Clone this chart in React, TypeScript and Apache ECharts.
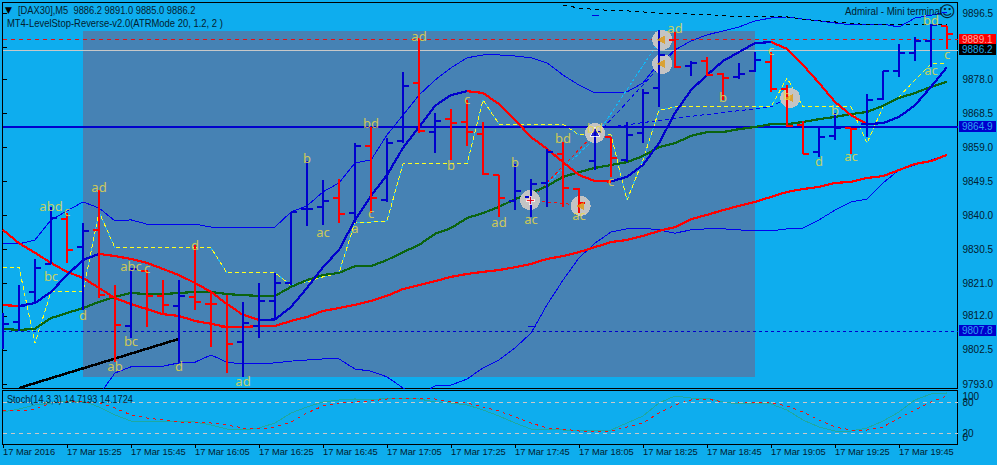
import React, { useEffect, useRef } from "react";
import * as echarts from "echarts";

const BG = "#0EADEE";
const TXT = "#03202F";
const FONT = "Liberation Sans";

const timeLabels = ["17 Mar 2016","17 Mar 15:25","17 Mar 15:45","17 Mar 16:05","17 Mar 16:25","17 Mar 16:45","17 Mar 17:05","17 Mar 17:25","17 Mar 17:45","17 Mar 18:05","17 Mar 18:25","17 Mar 18:45","17 Mar 19:05","17 Mar 19:25","17 Mar 19:45"];
const priceTicks = [9896.5,9887,9878,9868.5,9859,9849.5,9840,9830.5,9821,9812,9802.5,9793];
const priceLabels = [9896.5,9878,9868.5,9859,9849.5,9840,9830.5,9821,9812,9802.5,9793];

// open, high, low, close
const ohlcBars = [
[9805.8,9812.8,9802.8,9809.8],[9810.3,9820.6,9807.8,9814.8],[9818.7,9827.9,9815.6,9825.4],[9826.5,9842.4,9826.5,9839.3],
[9839.0,9840.7,9826.8,9830.4],[9831.2,9837.9,9813.7,9835.7],[9836.0,9847.1,9817.0,9817.8],[9817.3,9820.6,9799.1,9809.5],
[9809.2,9825.4,9805.8,9825.1],[9824.5,9824.8,9808.9,9817.6],[9817.6,9822.0,9812.3,9815.1],[9814.8,9822.0,9799.1,9817.6],
[9817.3,9831.8,9813.7,9815.9],[9815.3,9818.4,9803.3,9815.3],[9808.9,9817.8,9796.1,9804.2],[9804.7,9815.9,9795.0,9810.0],
[9809.2,9821.2,9805.8,9816.2],[9816.2,9824.0,9810.9,9821.2],[9821.2,9841.0,9820.6,9841.0],[9841.8,9855.2,9837.1,9841.9],
[9842.4,9849.9,9837.4,9844.0],[9844.9,9850.2,9837.9,9840.4],[9840.7,9860.2,9837.9,9859.4],[9859.4,9864.7,9840.7,9844.9],
[9844.3,9861.6,9843.8,9860.2],[9860.8,9880.0,9860.2,9876.1],[9877.0,9889.5,9863.0,9863.6],[9863.3,9868.6,9857.5,9866.4],
[9866.9,9869.7,9855.5,9865.8],[9866.1,9872.2,9859.4,9863.3],[9862.8,9866.1,9851.3,9851.6],[9851.3,9851.3,9839.6,9844.9],
[9844.0,9854.4,9841.5,9846.8],[9845.2,9850.2,9839.6,9848.8],[9849.1,9858.6,9842.4,9857.7],[9857.2,9860.5,9842.4,9847.7],
[9847.4,9847.7,9840.7,9843.5],[9855.2,9864.4,9852.7,9863.3],[9861.9,9861.9,9850.8,9856.1],[9855.5,9866.1,9854.9,9862.5],
[9863.0,9875.3,9860.2,9874.2],[9875.6,9891.8,9870.3,9884.8],[9889.0,9891.2,9881.2,9881.4],[9881.7,9883.1,9878.9,9882.6],
[9883.1,9884.2,9878.9,9879.2],[9879.5,9879.8,9872.2,9878.4],[9878.6,9882.6,9878.1,9879.5],[9880.3,9885.6,9880.0,9883.4],
[9882.8,9885.6,9874.5,9875.3],[9875.3,9876.4,9864.7,9865.0],[9865.3,9866.4,9857.2,9857.2],[9857.7,9864.4,9856.3,9861.9],
[9862.2,9868.6,9861.1,9864.4],[9864.4,9864.4,9857.2,9864.1],[9865.5,9873.9,9861.9,9872.2],[9872.5,9880.3,9872.2,9880.3],
[9880.3,9887.8,9878.6,9885.3],[9885.3,9889.8,9883.1,9888.7],[9888.7,9893.4,9881.4,9893.2],[9892.9,9892.9,9886.5,9890.7],
];

const fastMa = [9815.0,9814.8,9815.6,9818.7,9823.4,9827.6,9829.3,9828.7,9827.9,9826.8,9825.1,9823.4,9821.2,9818.7,9815.3,9812.3,9810.9,9811.0,9814.5,9819.8,9825.6,9830.4,9838.8,9845.5,9851.3,9858.9,9864.7,9870.6,9873.6,9874.7,9874.2,9871.1,9866.7,9861.9,9858.6,9854.9,9851.3,9849.6,9849.5,9850.8,9854.1,9860.2,9868.6,9875.0,9879.2,9883.1,9885.6,9888.1,9888.4,9886.5,9882.0,9877.0,9871.7,9868.0,9865.5,9865.8,9867.5,9870.8,9875.9,9881.4];
const slowRed = [9836.0,9832.3,9829.6,9826.8,9824.3,9822.6,9819.8,9817.0,9815.3,9813.9,9812.5,9812.0,9810.6,9809.8,9808.9,9808.9,9809.2,9809.2,9810.6,9811.7,9813.4,9814.2,9815.1,9816.2,9817.6,9819.5,9820.6,9821.7,9822.9,9823.7,9824.3,9824.8,9825.6,9826.5,9827.9,9828.7,9829.8,9831.2,9832.6,9833.2,9834.3,9835.7,9836.8,9839.0,9840.2,9841.5,9842.7,9843.8,9845.2,9846.6,9847.4,9848.0,9849.1,9849.4,9850.5,9851.0,9852.7,9854.4,9855.2,9856.9];
const midGreen = [9808.4,9808.1,9808.4,9811.4,9812.8,9814.2,9815.9,9817.3,9818.4,9818.1,9818.1,9818.4,9818.7,9818.7,9818.1,9817.8,9817.6,9817.6,9820.1,9822.0,9823.4,9824.0,9825.9,9825.9,9827.6,9829.8,9831.8,9834.9,9836.5,9839.3,9840.7,9842.4,9844.6,9846.3,9848.2,9850.8,9852.1,9853.3,9854.1,9854.9,9856.6,9859.1,9860.2,9862.2,9863.3,9863.3,9864.1,9864.7,9865.5,9865.5,9866.1,9866.9,9867.5,9868.3,9868.9,9870.6,9872.8,9874.2,9875.9,9877.3];
const upperBand = [9832.1,9832.1,9833.2,9838.8,9841.3,9843.8,9842.1,9838.5,9838.8,9837.6,9837.6,9837.6,9837.6,9836.8,9836.8,9836.8,9836.8,9836.8,9841.0,9842.7,9846.6,9849.1,9854.7,9855.5,9862.5,9868.0,9873.6,9877.8,9881.2,9884.0,9884.8,9884.8,9884.5,9884.0,9882.6,9879.2,9876.4,9874.2,9874.2,9874.5,9877.0,9882.6,9886.2,9888.7,9890.4,9891.5,9892.6,9894.3,9895.1,9895.4,9894.8,9894.3,9893.7,9893.2,9893.4,9893.4,9892.6,9895.1,9895.9,9896.8];
const lowerBand = [null,null,null,null,null,null,9789.9,9796.1,9797.8,9797.8,9798.0,9798.9,9799.1,9801.1,9799.1,9798.6,9798.6,9798.9,9799.4,9799.7,9800.0,9800.0,9797.2,9796.6,9795.0,9791.9,9789.7,9792.5,9792.7,9794.4,9797.5,9799.7,9803.1,9807.2,9815.1,9822.0,9828.2,9832.3,9835.4,9836.3,9836.5,9836.0,9835.1,9836.0,9836.3,9836.3,9836.0,9835.7,9835.7,9836.3,9836.5,9838.8,9841.5,9843.8,9844.6,9849.1,9852.7,9854.1,9855.5,9856.9];
const levelStop = [9825.6,9825.6,9804.4,9818.7,9818.7,9818.7,9841.0,9831.0,9831.0,9831.0,9831.0,9831.0,9831.0,9831.0,9824.0,9824.0,9824.0,9824.0,9820.6,9821.5,9822.9,9824.0,9838.2,9838.2,9838.5,9854.4,9854.4,9854.4,9854.4,9854.4,9872.2,9865.5,9865.5,9865.5,9865.5,9865.5,9862.5,9862.5,9862.5,9844.3,9855.5,9869.4,9870.3,9870.3,9870.3,9870.3,9870.3,9870.3,9870.3,9878.4,9870.3,9870.3,9870.3,9870.3,9860.2,9870.3,9873.1,9877.8,9882.3,9882.3];
const topDashedStart = 35;
const topDashed = [9898.7,9897.9,9897.5,9897.2,9897.1,9896.8,9896.5,9896.5,9896.2,9896.1,9895.8,9895.5,9895.4,9895.4,9895.4,9894.8,9894.3,9894.0,9893.6,9893.3,9893.2,9893.2,9893.2,9893.2,9893.2];
const stochMain = [61.3,67.1,74.9,78.8,82.6,82.6,71,55.5,43.9,42,43.9,43.9,42,36.2,28.4,26.5,30.4,40.1,59.4,71,80.7,84.6,86.5,84.6,88.4,88.4,86.5,80.7,78.8,74.9,65.2,53.6,40.1,28.4,28.4,26.5,24.6,26.5,26.5,40.1,53.6,78.8,92.3,88.4,88.4,80.7,76.8,78.8,76.8,65.2,45.9,32.3,24.6,24.6,30.4,43.9,61.3,84.6,96.2,98.1];
const stochSignal = [63.3,63.3,67.1,78.8,80.7,80.7,78.8,69.1,55.5,49.7,45.9,42,42,40.1,36.2,30.4,28.4,32.3,42,59.4,72.9,78.8,80.7,82.6,86.5,86.5,88.4,86.5,80.7,78.8,71,63.3,51.7,40.1,30.4,28.4,24.6,22.6,24.6,32.3,40.1,59.4,74.9,84.6,86.5,80.7,78.8,78.8,78.8,72.9,61.3,45.9,32.3,26.5,26.5,32.3,49.7,65.2,80.7,92.3];

const levelPrices = [9889.1, 9886.2, 9864.9, 9807.8];
const trendBottom = [[1, 9791.9], [11, 9805.6]];
const shadedBox = [[5, 9891.5], [47, 9795.0]];
const redDashes = [[[32.94, 9844.3], [36.0, 9842.9]], [[32.94, 9844.3], [37.0, 9863.0]]];
const cyanDashes = [[[33.75, 9847.7], [37.0, 9861.6]], [[37.44, 9864.7], [40.94, 9888.1]]];
const blueDashes = [[[37.5, 9864.4], [41.9, 9885.6]], [[37.5, 9864.4], [42.1, 9867.2], [48, 9870.3], [49, 9872.8]]];
const strayTicks = [[[32.8, 9809.0], [33.3, 9809.0]], [[36.8, 9895.7], [37.25, 9895.7]]];
const circlePoints = [[32.94, 9844.3], [36.1, 9842.7], [37, 9863.0], [41.2, 9889.0], [41.2, 9882.3], [49.2, 9872.8]];
const arrowPoints = [[36.05, 9842.7], [41.1, 9889.0], [41.1, 9882.3], [49.1, 9872.8]];
const upArrowPoints = [[37.0, 9863.4]];
const plusPoints = [[32.94, 9844.3]];
const letterLabels: [number, number, string][] = [
[3,9842.7,"abd"],[4,9841.3,"c"],[6,9848.0,"ad"],[3,9823.1,"bc"],[5,9812.3,"d"],[8,9825.9,"abc"],[9,9825.4,"c"],[8,9805.0,"bc"],[7,9798.0,"ab"],[11,9798.0,"d"],[12,9831.8,"d"],[15,9793.9,"ad"],[19,9856.1,"b"],[20,9835.4,"ac"],[22,9836.5,"a"],[23,9840.7,"c"],[23,9865.8,"bd"],[26,9890.1,"ad"],[28,9854.1,"b"],[29,9872.5,"c"],[31,9838.2,"ad"],[32,9854.9,"b"],[33,9839.0,"ac"],[35,9861.6,"bd"],[36,9840.2,"ac"],[37,9864.4,"bd"],[38,9849.6,"c"],[42,9892.3,"ad"],[45,9873.1,"b"],[48,9886.2,"c"],[49,9873.6,"b"],[51,9855.2,"d"],[52,9869.4,"b"],[53,9856.6,"ac"],[58,9880.6,"ac"],[58,9894.5,"bd"],[59,9885.1,"c"],
];

const tickIdx = timeLabels.map((_, i) => i * 4);
const pts = (a: (number | null)[], start = 0) => a.map((v, i) => [i + start, v]);
const risingOnly = (a: number[], up: boolean) =>
  a.map((v, i) => {
    const before = i > 0 && (up ? a[i] > a[i - 1] : a[i] < a[i - 1]);
    const after = i < a.length - 1 && (up ? a[i + 1] > a[i] : a[i + 1] < a[i]);
    return [i, before || after ? v : null];
  });
const slopesOnly = (a: number[]) =>
  a.map((v, i) => [i, (i > 0 && a[i - 1] !== v) || (i < a.length - 1 && a[i + 1] !== v) ? v : null]);

const line = (name: string, data: any, color: string, width: number, z: number, extra: any = {}) => ({
  name, type: "line", data, symbol: "none", silent: true, z,
  lineStyle: { color, width, ...(extra.dash ? { type: extra.dash } : {}) },
  xAxisIndex: extra.pane ?? 0, yAxisIndex: extra.pane ?? 0,
});

export default function App() {
  const ref = useRef<HTMLDivElement>(null);
  useEffect(() => {
    const chart = echarts.init(ref.current!, undefined, { renderer: "svg" });
    const tag = (bg: string, fg: string) => ({
      show: true, position: "end", distance: 1.5, formatter: (p: any) => Number(p.value).toFixed(1),
      color: fg, backgroundColor: bg, padding: [1, 3, 0, 3], fontFamily: FONT, fontSize: 10,
    });
    const headerText = (x: number, y: number, text: string, scaleX: number) => ({
      type: "text", z: 50, x, y, scaleX, style: { text, fill: TXT, font: `10.5px ${FONT}` },
    });
    const stochLabels = (values: number[], names: string[], ticks: number[]) => ({
      type: "value", gridIndex: 1, position: "right", min: -1.5, max: 102.9,
      axisLine: { show: false }, splitLine: { show: false },
      axisTick: { show: ticks.length > 0, length: 4, lineStyle: { color: "#000" }, customValues: ticks },
      axisLabel: {
        customValues: values, margin: 5, color: TXT, fontFamily: FONT, fontSize: 10,
        showMinLabel: true, showMaxLabel: true, hideOverlap: false,
        formatter: (v: number) => names[values.indexOf(v)] ?? "",
      },
    });
    chart.setOption({
      animation: false,
      backgroundColor: BG,
      grid: [
        { left: 2.5, right: 39.5, top: 2.5, height: 386, show: true, borderColor: "#000", borderWidth: 1, backgroundColor: "transparent" },
        { left: 2.5, right: 39.5, top: 390.5, height: 54, show: true, borderColor: "#000", borderWidth: 1, backgroundColor: "transparent" },
      ],
      xAxis: [
        { type: "value", gridIndex: 0, min: -0.03125, max: 59.656, show: false },
        {
          type: "value", gridIndex: 1, min: -0.03125, max: 59.656,
          axisLine: { show: false }, splitLine: { show: false },
          axisTick: { show: true, length: 4, lineStyle: { color: "#000" }, customValues: tickIdx },
          axisLabel: {
            customValues: tickIdx, align: "left", margin: 3, color: TXT, fontFamily: FONT, fontSize: 9.3,
            formatter: (v: number) => timeLabels[Math.round(v / 4)] ?? "",
          },
        },
      ],
      yAxis: [
        {
          type: "value", gridIndex: 0, position: "right", min: 9791.76, max: 9899.43, scale: true,
          axisLine: { show: false }, splitLine: { show: false },
          axisTick: { show: true, length: 4, lineStyle: { color: "#000" }, customValues: priceTicks },
          axisLabel: { customValues: priceLabels, margin: 5, color: TXT, fontFamily: FONT, fontSize: 10, formatter: (v: number) => v.toFixed(1) },
        },
        stochLabels([90.4, 13], ["100", "0"], [-1.5, 102.9]),
        stochLabels([80, 20], ["80", "20"], []),
      ],
      series: [
        {
          type: "line", data: [], z: 1, silent: true,
          markArea: {
            silent: true, itemStyle: { color: "#4682B4" },
            data: [[{ coord: shadedBox[0] }, { coord: shadedBox[1] }]],
          },
        },
        {
          type: "line", data: [], z: 2, silent: true,
          markLine: {
            silent: true, symbol: "none", precision: 1, animation: false,
            data: [
              { yAxis: levelPrices[0], lineStyle: { color: "#E81010", type: [4, 4], width: 1 }, label: tag("#FF0000", "#FFA8A0") },
              { yAxis: levelPrices[1], lineStyle: { color: "#C8C8C8", type: "solid", width: 1 }, label: tag("#000000", "#1AA9E8") },
              { yAxis: levelPrices[2], lineStyle: { color: "#0000CD", type: "solid", width: 2 }, label: tag("#0000CD", "#2BA6F0") },
              { yAxis: levelPrices[3], lineStyle: { color: "#0000CD", type: [3, 3], width: 1 }, label: tag("#0000CD", "#2BA6F0") },
            ],
          },
        },
        line("upper", pts(upperBand), "#0000F0", 1, 3),
        line("lower", pts(lowerBand), "#0000F0", 1, 3),
        line("black dashes", pts(topDashed, topDashedStart), "#000000", 1, 3, { dash: [4, 4] }),
        line("trend", trendBottom, "#000000", 2.5, 3),
        ...strayTicks.map((d) => line("tick", d, "#0000E0", 1, 3)),
        line("stop under", slopesOnly(levelStop), "#22B8F0", 1, 4),
        line("stop", pts(levelStop), "#FFFF20", 1, 4, { dash: [4, 3] }),
        ...redDashes.map((d) => line("red dash", d, "#F01010", 1, 4, { dash: [3, 3] })),
        ...cyanDashes.map((d) => line("cyan dash", d, "#10B8F8", 1, 4, { dash: [3, 2] })),
        ...blueDashes.map((d) => line("blue dash", d, "#0000F0", 1, 4, { dash: [4, 3] })),
        line("green", pts(midGreen), "#0B6410", 2.2, 5),
        line("slow", pts(slowRed), "#FF0000", 2.2, 5),
        {
          type: "scatter", data: circlePoints, symbolSize: 20, silent: true, z: 6,
          itemStyle: { color: "#C4C4C4", opacity: 1 },
        },
        line("fast up", risingOnly(fastMa, true), "#0000CD", 2.2, 7),
        line("fast down", risingOnly(fastMa, false), "#FF0000", 2.2, 7),
        {
          type: "custom", z: 8, silent: true, clip: true,
          data: ohlcBars.map((b, i) => [i, ...b]),
          encode: { x: 0, y: [1, 2, 3, 4] },
          renderItem: (_: any, api: any) => {
            const i = api.value(0);
            const o = api.value(1), h = api.value(2), l = api.value(3), c = api.value(4);
            const stroke = c > o ? "#0000CD" : "#FF0000";
            const x = Math.round(api.coord([i, o])[0]);
            const yy = (v: number) => Math.round(api.coord([i, v])[1]);
            const seg = (x1: number, y1: number, x2: number, y2: number) => ({
              type: "line", shape: { x1, y1, x2, y2 }, style: { stroke, lineWidth: 2 },
            });
            return {
              type: "group",
              children: [seg(x, yy(h), x, yy(l)), seg(x - 6, yy(o), x, yy(o)), seg(x, yy(c), x + 6, yy(c))],
            };
          },
        },
        {
          type: "scatter", data: arrowPoints, symbol: "triangle", symbolRotate: 90, symbolSize: 8, silent: true, z: 9,
          itemStyle: { color: "#E09A10" },
        },
        {
          type: "scatter", data: upArrowPoints, symbol: "triangle", symbolSize: 9, silent: true, z: 9,
          itemStyle: { color: "#0000CD", borderColor: "#FFFFFF", borderWidth: 1 },
        },
        {
          type: "scatter", data: plusPoints, symbol: "path://M3,0H5V3H8V5H5V8H3V5H0V3H3Z", symbolSize: 8, silent: true, z: 9,
          itemStyle: { color: "#FF0000", borderColor: "#FFFFFF", borderWidth: 1 },
        },
        {
          type: "scatter", z: 10, silent: true, symbolSize: 1, itemStyle: { color: "transparent" },
          data: letterLabels.map(([x, y, t]) => ({ value: [x, y], name: t })),
          label: {
            show: true, position: "inside", formatter: (p: any) => p.name, color: "#F0DC40",
            fontFamily: "Noto Sans", fontSize: 13,
          },
        },
        line("stoch main", pts(stochMain), "#1FA8A0", 1, 3, { pane: 1 }),
        {
          ...line("stoch signal", pts(stochSignal), "#F01010", 1, 4, { pane: 1, dash: [3, 4] }),
          markLine: {
            silent: true, symbol: "none", label: { show: false }, animation: false,
            lineStyle: { color: "#C8C8C8", type: [4, 4], width: 1 },
            data: [{ yAxis: 80 }, { yAxis: 20 }],
          },
        },
      ],
      graphic: [
        { type: "text", z: 50, x: 5, y: 5, style: { text: "▼", fill: "#000", font: `9px DejaVu Sans` } },
        headerText(18, 5, "[DAX30],M5  9886.2 9891.0 9885.0 9886.2", 0.89),
        headerText(7, 18, "MT4-LevelStop-Reverse-v2.0(ATRMode 20, 1.2, 2 )", 0.9),
        headerText(845, 6, "Admiral - Mini terminal", 0.93),
        { type: "text", z: 50, x: 939, y: 3, style: { text: "☺", fill: TXT, font: `16px DejaVu Sans` } },
        headerText(7, 394, "Stoch(14,3,3) 14.7193 14.1724", 0.87),
      ],
    });
    return () => chart.dispose();
  }, []);
  return (
    <>
      <style>{"svg path,svg line,svg rect,svg polyline{shape-rendering:crispEdges}"}</style>
      <div ref={ref} style={{ position: "fixed", left: 0, top: 0, width: 997, height: 465 }} />
    </>
  );
}
